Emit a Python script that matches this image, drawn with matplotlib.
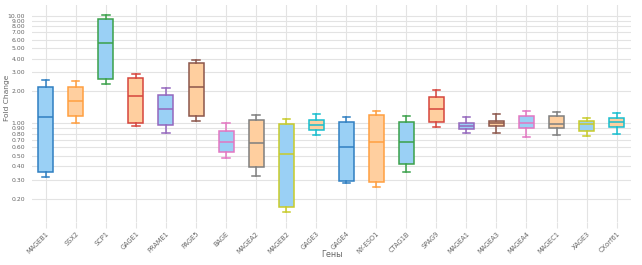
import matplotlib
matplotlib.use("Agg")
import matplotlib.pyplot as plt
from matplotlib.ticker import FixedLocator, NullLocator, FormatStrFormatter

# gene names and box statistics (fold change, log axis)
genes = ["MAGEB1", "SSX2", "SCP1", "GAGE1", "PRAME1", "PAGE5", "BAGE", "MAGEA2",
         "MAGEB2", "GAGE3", "GAGE4", "NY-ESO1", "CTAG1B", "SPAG9", "MAGEA1",
         "MAGEA3", "MAGEA4", "MAGEC1", "XAGE3", "CXorf61"]
whislo = [0.315, 1.01, 2.30, 0.94, 0.81, 1.05, 0.476, 0.324, 0.151, 0.78,
          0.277, 0.256, 0.351, 0.92, 0.81, 0.82, 0.74, 0.78, 0.76, 0.79]
q1 = [0.35, 1.18, 2.58, 1.01, 0.97, 1.17, 0.537, 0.393, 0.168, 0.87,
      0.289, 0.286, 0.416, 1.04, 0.88, 0.94, 0.91, 0.90, 0.85, 0.93]
med = [1.14, 1.62, 5.54, 1.78, 1.37, 2.16, 0.675, 0.652, 0.515, 0.96,
       0.606, 0.666, 0.666, 1.37, 0.94, 1.00, 1.01, 0.985, 0.985, 1.02]
q3 = [2.16, 2.19, 9.38, 2.64, 1.84, 3.61, 0.84, 1.07, 0.99, 1.07,
      1.03, 1.19, 1.04, 1.76, 1.01, 1.06, 1.17, 1.16, 1.06, 1.11]
whishi = [2.51, 2.46, 10.2, 2.85, 2.11, 3.90, 1.01, 1.19, 1.10, 1.21,
          1.14, 1.29, 1.16, 2.05, 1.15, 1.22, 1.30, 1.27, 1.13, 1.25]
yticks = [0.2, 0.3, 0.4, 0.5, 0.6, 0.7, 0.8, 0.9, 1, 2, 3, 4, 5, 6, 7, 8, 9, 10]

FILLS = ["#9ad0f5", "#ffcf9f"]
EDGES = ["#2f7fc1", "#ff9f40", "#3aa14a", "#d6453d", "#9467bd",
         "#8c564b", "#e377c2", "#7f7f7f", "#c8cb2a", "#17becf"]

fig = plt.figure(figsize=(6.42, 2.65), dpi=100)
ax = fig.add_axes([32 / 642, 1 - 222 / 265, (631 - 32) / 642, (222 - 5) / 265])

stats = [dict(whislo=a, q1=b, med=c, q3=d, whishi=e, fliers=[])
         for a, b, c, d, e in zip(whislo, q1, med, q3, whishi)]
bp = ax.bxp(stats, positions=range(len(genes)), widths=0.5, patch_artist=True,
            showfliers=False, capwidths=0.24, zorder=3)
for i, box in enumerate(bp["boxes"]):
    ec = EDGES[i % len(EDGES)]
    box.set_facecolor(FILLS[i % 2])
    box.set_edgecolor(ec)
    box.set_linewidth(1.1)
    bp["medians"][i].set_color(ec)
    bp["medians"][i].set_linewidth(1.1)
    for ln in bp["whiskers"][2 * i:2 * i + 2] + bp["caps"][2 * i:2 * i + 2]:
        ln.set_color(ec)
        ln.set_linewidth(1.1)

ax.set_yscale("log")
ax.set_ylim(0.121, 12.6)
ax.set_xlim(-0.46, len(genes) - 0.52)
ax.yaxis.set_major_locator(FixedLocator(yticks))
ax.yaxis.set_minor_locator(NullLocator())
ax.yaxis.set_major_formatter(FormatStrFormatter("%.2f"))
ax.set_xticks(range(len(genes)))
ax.set_xticklabels(genes, rotation=45, ha="right", rotation_mode="anchor")

ax.grid(True, color="#e3e3e3", linewidth=0.8, zorder=0)
ax.set_axisbelow(True)
for s in ax.spines.values():
    s.set_visible(False)
ax.tick_params(axis="y", length=0, pad=5, labelsize=4.4, colors="#666666")
ax.tick_params(axis="x", length=4, color="#e3e3e3", pad=2, labelsize=4.8,
               labelcolor="#666666")

ax.set_xlabel("Гены", fontsize=5.8, color="#666666")
ax.xaxis.set_label_coords(0.5, -0.13)
ax.set_ylabel("Fold Change", fontsize=5.4, color="#666666")
ax.yaxis.set_label_coords(-0.037, 0.57)

fig.savefig("out.png", dpi=100)
